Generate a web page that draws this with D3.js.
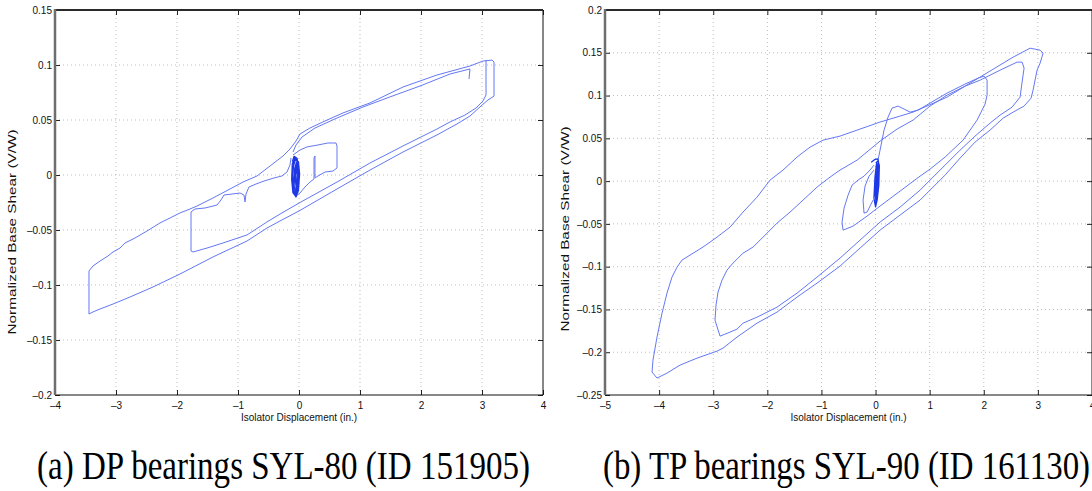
<!DOCTYPE html>
<html>
<head>
<meta charset="utf-8">
<script src="https://cdn.jsdelivr.net/npm/d3@7"></script>
<style>
  body { margin: 0; background: #fff; }
  svg { display: block; }
</style>
</head>
<body>
<svg id="fig" width="1092" height="491"></svg>
<script>
// ---------- Panel (a): DP bearings, SYL-80 ----------
const dpXTicks = [-4, -3, -2, -1, 0, 1, 2, 3, 4];
const dpXTickLabels = ["–4", "–3", "–2", "–1", "0", "1", "2", "3", "4"];
const dpYTicks = [-0.2, -0.15, -0.1, -0.05, 0, 0.05, 0.1, 0.15];
const dpYTickLabels = ["–0.2", "–0.15", "–0.1", "–0.05", "0", "0.05", "0.1", "0.15"];

// largest cycle: (displacement in., V/W)
const dpOuterLoop = [
  [-3.443, -0.1264], [-3.443, -0.0873], [-3.377, -0.0827], [-3.262, -0.0782], [-3.131, -0.0736],
  [-3.049, -0.0700], [-2.934, -0.0664], [-2.852, -0.0618], [-2.689, -0.0573], [-2.492, -0.0509],
  [-2.279, -0.0436], [-2.115, -0.0391], [-1.951, -0.0345], [-1.787, -0.0309], [-1.672, -0.0282],
  [-1.410, -0.0209], [-1.131, -0.0127], [-0.918, -0.0064], [-0.689, -0.0009], [-0.475, 0.0082],
  [-0.262, 0.0173], [-0.148, 0.0236], [-0.049, 0.0309], [0.016, 0.0373], [0.180, 0.0427],
  [0.426, 0.0491], [0.721, 0.0564], [1.164, 0.0655], [1.705, 0.0800], [2.262, 0.0909],
  [2.803, 0.0991], [3.016, 0.1036], [3.164, 0.1045], [3.197, 0.1027], [3.197, 0.0718],
  [3.098, 0.0682], [2.984, 0.0627], [2.803, 0.0536], [2.590, 0.0464], [2.262, 0.0364],
  [1.705, 0.0209], [1.164, 0.0045], [0.623, -0.0127], [0.000, -0.0327], [-0.311, -0.0418],
  [-0.525, -0.0482], [-0.852, -0.0600], [-1.410, -0.0745], [-1.951, -0.0900], [-2.393, -0.1018],
  [-2.770, -0.1109], [-3.049, -0.1173], [-3.262, -0.1218], [-3.377, -0.1245], [-3.443, -0.1264]
];

// second cycle, returning through the stepped branch into the centre
const dpInnerLoop = [
  [3.066, 0.1045], [3.066, 0.0727], [3.016, 0.0673], [2.902, 0.0609], [2.721, 0.0545],
  [2.475, 0.0482], [2.262, 0.0418], [1.705, 0.0264], [1.164, 0.0109], [0.623, -0.0064],
  [0.000, -0.0255], [-0.311, -0.0355], [-0.525, -0.0427], [-0.852, -0.0545], [-1.246, -0.0618],
  [-1.508, -0.0664], [-1.738, -0.0700], [-1.770, -0.0691], [-1.770, -0.0336], [-1.705, -0.0309],
  [-1.541, -0.0300], [-1.344, -0.0273], [-1.279, -0.0227], [-1.230, -0.0182], [-1.098, -0.0173],
  [-0.967, -0.0164], [-0.902, -0.0182], [-0.885, -0.0245], [-0.869, -0.0173], [-0.820, -0.0109],
  [-0.705, -0.0082], [-0.574, -0.0055], [-0.410, -0.0027], [-0.279, -0.0009], [-0.197, 0.0027],
  [-0.148, 0.0091], [-0.131, 0.0155]
];

// upper branch that stops short of the right-hand reversal
const dpUpperBranch = [
  [2.787, 0.0873], [2.803, 0.0964], [2.475, 0.0918], [1.984, 0.0809], [1.443, 0.0700],
  [1.049, 0.0618], [0.623, 0.0518], [0.262, 0.0427], [0.049, 0.0345], [-0.049, 0.0273],
  [-0.098, 0.0209]
];

// small loop right of the centre
const dpSmallLoop = [
  [-0.098, 0.0182], [0.016, 0.0227], [0.131, 0.0255], [0.311, 0.0273], [0.475, 0.0291],
  [0.607, 0.0291], [0.623, 0.0264], [0.623, 0.0064], [0.557, 0.0036], [0.426, 0.0027],
  [0.311, -0.0009], [0.262, -0.0027], [0.262, 0.0173], [0.246, 0.0155], [0.246, -0.0036],
  [0.180, -0.0064], [0.098, -0.0109], [0.016, -0.0164], [-0.049, -0.0191]
];

// low-amplitude cycles near the origin
const dpCluster = [
  [-0.11, 0.012], [-0.08, 0.017], [-0.03, 0.015], [-0.01, 0.004], [-0.02, -0.012], [-0.06, -0.019],
  [-0.10, -0.016], [-0.12, -0.004], [-0.11, 0.010], [-0.07, 0.016], [-0.01, 0.012], [0.01, 0.001],
  [-0.01, -0.014], [-0.05, -0.020], [-0.09, -0.013], [-0.10, 0.002], [-0.08, 0.014], [-0.03, 0.013],
  [0.00, 0.002], [-0.02, -0.016], [-0.07, -0.018], [-0.11, -0.008], [-0.09, 0.008], [-0.05, 0.016],
  [-0.01, 0.008], [0.00, -0.008], [-0.04, -0.018], [-0.08, -0.010], [-0.07, 0.006], [-0.04, 0.012],
  [-0.02, -0.004], [-0.04, -0.015], [-0.06, -0.004], [-0.05, 0.009], [-0.03, 0.000], [-0.05, -0.010]
];

// ---------- Panel (b): TP bearings, SYL-90 ----------
const tpXTicks = [-5, -4, -3, -2, -1, 0, 1, 2, 3, 4];
const tpXTickLabels = ["–5", "–4", "–3", "–2", "–1", "0", "1", "2", "3", "4"];
const tpYTicks = [-0.25, -0.2, -0.15, -0.1, -0.05, 0, 0.05, 0.1, 0.15, 0.2];
const tpYTickLabels = ["–0.25", "–0.2", "–0.15", "–0.1", "–0.05", "0", "0.05", "0.1", "0.15", "0.2"];

const tpOuterLoop = [
  [-4.039, -0.2302], [-4.131, -0.2232], [-4.113, -0.2092], [-4.039, -0.1823], [-3.946, -0.1543],
  [-3.854, -0.1309], [-3.762, -0.1122], [-3.669, -0.1005], [-3.577, -0.0923], [-3.429, -0.0865],
  [-3.189, -0.0771], [-2.930, -0.0655], [-2.689, -0.0538], [-2.449, -0.0362], [-2.190, -0.0187],
  [-1.950, 0.0012], [-1.710, 0.0129], [-1.451, 0.0281], [-1.211, 0.0397], [-0.970, 0.0479],
  [-0.656, 0.0526], [-0.342, 0.0596], [0.083, 0.0690], [0.693, 0.0806], [1.322, 0.0982],
  [1.932, 0.1216], [2.542, 0.1449], [2.856, 0.1554], [3.041, 0.1531], [3.096, 0.1496],
  [3.041, 0.1379], [2.985, 0.1297], [2.911, 0.1064], [2.874, 0.0970], [2.745, 0.0877],
  [2.542, 0.0806], [2.357, 0.0736], [2.116, 0.0596], [1.839, 0.0456], [1.562, 0.0269],
  [1.285, 0.0070], [1.007, -0.0105], [0.823, -0.0222], [0.453, -0.0397], [0.083, -0.0573],
  [-0.287, -0.0783], [-0.656, -0.0993], [-1.081, -0.1192], [-1.451, -0.1356], [-1.821, -0.1531],
  [-2.190, -0.1660], [-2.560, -0.1823], [-2.819, -0.1952], [-2.930, -0.1987], [-3.299, -0.2069],
  [-3.614, -0.2151], [-3.854, -0.2244], [-4.039, -0.2302]
];

const tpMiddleLoop = [
  [-2.874, -0.1812], [-2.967, -0.1625], [-2.948, -0.1449], [-2.911, -0.1297], [-2.837, -0.1157],
  [-2.745, -0.1040], [-2.634, -0.0958], [-2.449, -0.0842], [-2.264, -0.0771], [-2.079, -0.0655],
  [-1.821, -0.0491], [-1.580, -0.0362], [-1.340, -0.0222], [-1.081, -0.0070], [-0.841, 0.0047],
  [-0.656, 0.0129], [-0.342, 0.0245], [0.083, 0.0468], [0.397, 0.0608], [0.693, 0.0713],
  [1.007, 0.0877], [1.322, 0.1005], [1.654, 0.1110], [1.932, 0.1180], [2.301, 0.1297],
  [2.616, 0.1391], [2.708, 0.1391], [2.745, 0.1321], [2.708, 0.1157], [2.671, 0.0982],
  [2.523, 0.0865], [2.301, 0.0771], [2.116, 0.0678], [1.839, 0.0526], [1.562, 0.0362],
  [1.285, 0.0187], [1.007, 0.0012], [0.823, -0.0105], [0.453, -0.0304], [0.083, -0.0479],
  [-0.287, -0.0690], [-0.656, -0.0900], [-1.081, -0.1122], [-1.451, -0.1309], [-1.821, -0.1473],
  [-2.190, -0.1590], [-2.449, -0.1660], [-2.560, -0.1730], [-2.689, -0.1765], [-2.874, -0.1812]
];

const tpInnerLoop = [
  [0.046, 0.0245], [0.102, 0.0421], [0.157, 0.0596], [0.231, 0.0748], [0.305, 0.0853],
  [0.416, 0.0877], [0.527, 0.0842], [0.638, 0.0806], [0.786, 0.0830], [1.007, 0.0912],
  [1.322, 0.1029], [1.654, 0.1134], [1.895, 0.1204], [2.006, 0.1227], [2.061, 0.1180],
  [2.061, 0.1005], [2.024, 0.0900], [1.876, 0.0713], [1.617, 0.0479], [1.285, 0.0281],
  [1.007, 0.0140], [0.823, 0.0058], [0.453, -0.0117], [0.083, -0.0292], [-0.157, -0.0409],
  [-0.416, -0.0526], [-0.601, -0.0573], [-0.619, -0.0479], [-0.582, -0.0316], [-0.508, -0.0164],
  [-0.434, -0.0047], [-0.323, 0.0012], [-0.213, 0.0058], [-0.102, 0.0129], [-0.028, 0.0187]
];

const tpSmallLoop = [
  [-0.046, -0.0222], [-0.157, -0.0362], [-0.213, -0.0374], [-0.231, -0.0222], [-0.194, -0.0058],
  [-0.120, 0.0058], [-0.028, 0.0129]
];

const tpCluster = [
  [-0.08, 0.022], [-0.02, 0.025], [0.04, 0.026], [0.07, 0.018], [0.06, -0.005], [0.03, -0.022],
  [0.00, -0.030], [-0.03, -0.020], [-0.01, 0.005], [0.02, 0.022], [0.05, 0.024], [0.06, 0.005],
  [0.04, -0.015], [0.01, -0.026], [-0.01, -0.012], [0.01, 0.012], [0.03, 0.020], [0.05, 0.010],
  [0.04, -0.010], [0.02, -0.020], [0.00, -0.008], [0.01, 0.015], [0.04, 0.018], [0.03, -0.004],
  [0.02, -0.016], [0.01, 0.000], [0.03, 0.012]
];

// ---------- drawing ----------
const svg = d3.select("#fig");
const sansFont = "'Liberation Sans', Arial, Helvetica, sans-serif";
const serifFont = "'Liberation Serif', 'Times New Roman', Times, serif";
const traceColor = "#6478f3";
const denseColor = "#1d38e4";

function drawPanel(cfg) {
  const x = d3.scaleLinear().domain(cfg.xDomain).range([cfg.left, cfg.right]);
  const y = d3.scaleLinear().domain(cfg.yDomain).range([cfg.bottom, cfg.top]);
  const g = svg.append("g");

  // dotted grid
  g.append("g").selectAll("line").data(cfg.xTicks.slice(1, -1)).join("line")
    .attr("x1", d => x(d)).attr("x2", d => x(d))
    .attr("y1", cfg.top).attr("y2", cfg.bottom)
    .attr("stroke", "#bdbdbd").attr("stroke-width", 1).attr("stroke-dasharray", "1,3");
  g.append("g").selectAll("line").data(cfg.yTicks.slice(1, -1)).join("line")
    .attr("y1", d => y(d)).attr("y2", d => y(d))
    .attr("x1", cfg.left).attr("x2", cfg.right)
    .attr("stroke", "#bdbdbd").attr("stroke-width", 1).attr("stroke-dasharray", "1,3");

  // hysteresis traces
  const line = d3.line().x(d => x(d[0])).y(d => y(d[1]));
  cfg.traces.forEach(t => {
    g.append("path").attr("d", line(t))
      .attr("fill", "none").attr("stroke", traceColor)
      .attr("stroke-width", 1).attr("stroke-linejoin", "round");
  });
  g.append("path").attr("d", line(cfg.dense))
    .attr("fill", "none").attr("stroke", denseColor)
    .attr("stroke-width", 1.3).attr("stroke-linejoin", "round");

  // axes with inward ticks
  const xLab = d => cfg.xTickLabels[cfg.xTicks.indexOf(d)];
  const yLab = d => cfg.yTickLabels[cfg.yTicks.indexOf(d)];
  const bottom = g.append("g").attr("transform", `translate(0,${cfg.bottom})`)
    .call(d3.axisBottom(x).tickValues(cfg.xTicks).tickFormat(xLab).tickSizeInner(-5).tickSizeOuter(0).tickPadding(7));
  const left = g.append("g").attr("transform", `translate(${cfg.left},0)`)
    .call(d3.axisLeft(y).tickValues(cfg.yTicks).tickFormat(yLab).tickSizeInner(-5).tickSizeOuter(0).tickPadding(3));
  const top = g.append("g").attr("transform", `translate(0,${cfg.top})`)
    .call(d3.axisTop(x).tickValues(cfg.xTicks).tickFormat("").tickSizeInner(-5).tickSizeOuter(0));
  const right = g.append("g").attr("transform", `translate(${cfg.right},0)`)
    .call(d3.axisRight(y).tickValues(cfg.yTicks).tickFormat("").tickSizeInner(-5).tickSizeOuter(0));
  [bottom, left, top, right].forEach(a => {
    a.select(".domain").remove();
    a.selectAll("line").attr("stroke", "#222");
    a.selectAll("text").attr("font-family", sansFont).attr("font-size", 10).attr("fill", "#111");
  });

  // frame
  g.append("line").attr("x1", cfg.left).attr("x2", cfg.right).attr("y1", cfg.bottom).attr("y2", cfg.bottom)
    .attr("stroke", "#111").attr("stroke-width", 1);
  g.append("line").attr("x1", cfg.right).attr("x2", cfg.right).attr("y1", cfg.top).attr("y2", cfg.bottom)
    .attr("stroke", "#111").attr("stroke-width", 1);
  g.append("line").attr("x1", cfg.left).attr("x2", cfg.right).attr("y1", cfg.top).attr("y2", cfg.top)
    .attr("stroke", "#2a2a2a").attr("stroke-width", 2);
  g.append("line").attr("x1", cfg.left).attr("x2", cfg.left).attr("y1", cfg.top - 1).attr("y2", cfg.bottom)
    .attr("stroke", "#6e6e6e").attr("stroke-width", 2.5);

  // axis titles
  g.append("text")
    .attr("x", (cfg.left + cfg.right) / 2).attr("y", cfg.bottom + 26)
    .attr("text-anchor", "middle").attr("font-family", sansFont).attr("font-size", 10).attr("fill", "#111")
    .text("Isolator Displacement (in.)");
  g.append("text")
    .attr("transform", `translate(${cfg.yTitleX},${cfg.yTitleY}) rotate(-90)`)
    .attr("text-anchor", "middle").attr("font-family", sansFont).attr("font-size", 11).attr("fill", "#111")
    .attr("textLength", 205).attr("lengthAdjust", "spacingAndGlyphs")
    .text("Normalized Base Shear (V/W)");

  // caption
  svg.append("text")
    .attr("x", cfg.captionX).attr("y", 479)
    .attr("font-family", serifFont).attr("font-size", 40).attr("fill", "#000")
    .attr("textLength", cfg.captionWidth).attr("lengthAdjust", "spacingAndGlyphs")
    .text(cfg.caption);
}

drawPanel({
  left: 55, right: 543, top: 10, bottom: 395,
  xDomain: [-4, 4], yDomain: [-0.2, 0.15],
  xTicks: dpXTicks, xTickLabels: dpXTickLabels,
  yTicks: dpYTicks, yTickLabels: dpYTickLabels,
  traces: [dpOuterLoop, dpInnerLoop, dpUpperBranch, dpSmallLoop],
  dense: dpCluster,
  yTitleX: 16, yTitleY: 232,
  caption: "(a) DP bearings SYL-80 (ID 151905)", captionX: 37, captionWidth: 493
});

drawPanel({
  left: 605, right: 1092, top: 10, bottom: 395,
  xDomain: [-5, 4], yDomain: [-0.25, 0.2],
  xTicks: tpXTicks, xTickLabels: tpXTickLabels,
  yTicks: tpYTicks, yTickLabels: tpYTickLabels,
  traces: [tpOuterLoop, tpMiddleLoop, tpInnerLoop, tpSmallLoop],
  dense: tpCluster,
  yTitleX: 569, yTitleY: 229,
  caption: "(b) TP bearings SYL-90 (ID 161130)", captionX: 603, captionWidth: 487
});
</script>
</body>
</html>
